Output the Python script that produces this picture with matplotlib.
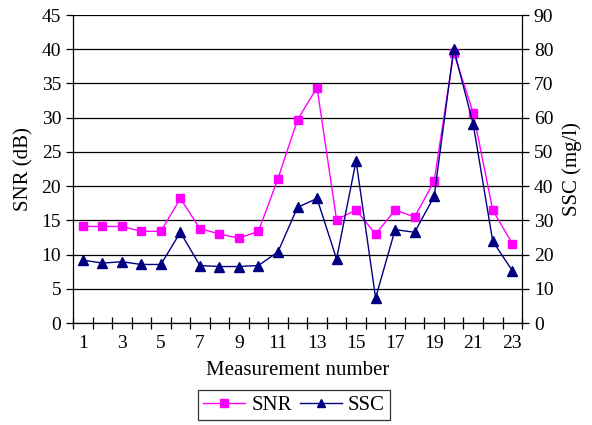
import numpy as np
import matplotlib
matplotlib.use('Agg')
import matplotlib.pyplot as plt

plt.rcParams['font.family'] = ['Liberation Serif', 'DejaVu Serif']

measurement = np.arange(1, 24)
snr = [14.1, 14.1, 14.1, 13.4, 13.4, 18.2, 13.8, 13.0, 12.4, 13.4, 21.1, 29.7,
       34.4, 15.1, 16.5, 13.0, 16.5, 15.5, 20.7, 39.5, 30.7, 16.5, 11.6]
ssc = [18.4, 17.5, 17.9, 17.1, 17.1, 26.5, 16.8, 16.5, 16.5, 16.8, 20.8, 33.8,
       36.4, 18.7, 47.4, 7.3, 27.3, 26.5, 37.0, 80.1, 58.1, 23.9, 15.3]
x_labels = [str(i) for i in range(1, 24, 2)]

fig = plt.figure(figsize=(5.92, 4.25), dpi=100)
ax = fig.add_axes([0.1233, 0.24, 0.7585, 0.7247])
ax2 = ax.twinx()

l1, = ax.plot(measurement, snr, color='#FF00FF', marker='s', markersize=6,
              linewidth=1, label='SNR', zorder=3)
l2, = ax2.plot(measurement, ssc, color='#000080', marker='^', markersize=7,
               linewidth=1, label='SSC', zorder=3)

ax.set_xlim(0.5, 23.5)
ax.set_ylim(0, 45)
ax2.set_ylim(0, 90)
ax.set_yticks(np.arange(0, 46, 5))
ax2.set_yticks(np.arange(0, 91, 10))
ax.yaxis.grid(True, color='black', linewidth=0.9)
ax.set_axisbelow(True)

ax.set_xticks(range(1, 24, 2))
ax.set_xticklabels(x_labels)
ax.set_xticks(np.arange(0.5, 24, 1), minor=True)
ax.tick_params(axis='x', which='major', length=0, labelsize=14, pad=9)
ax.tick_params(axis='x', which='minor', direction='inout', length=8, width=0.9)
ax.tick_params(axis='y', direction='out', length=5, width=0.9, labelsize=14)
ax2.tick_params(axis='y', direction='out', length=5, width=0.9, labelsize=14)

for a in (ax, ax2):
    a.spines['top'].set_visible(False)
    for s in ('left', 'right', 'bottom'):
        a.spines[s].set_linewidth(0.9)
ax.spines['right'].set_visible(False)
ax2.spines['left'].set_visible(False)
ax2.spines['bottom'].set_visible(False)

ax.set_xlabel('Measurement number', fontsize=15, labelpad=6)
ax.set_ylabel('SNR (dB)', fontsize=15, labelpad=6)
ax2.set_ylabel('SSC (mg/l)', fontsize=15, labelpad=6)

leg = fig.legend(handles=[l1, l2], loc='center', bbox_to_anchor=(0.497, 0.046),
                 ncol=2, fontsize=15, frameon=True, fancybox=False,
                 edgecolor='black', handlelength=2.0, handletextpad=0.3,
                 columnspacing=0.4, borderpad=0.25, markerscale=0.9)
leg.get_frame().set_linewidth(0.9)

fig.savefig('out.png', dpi=100)
